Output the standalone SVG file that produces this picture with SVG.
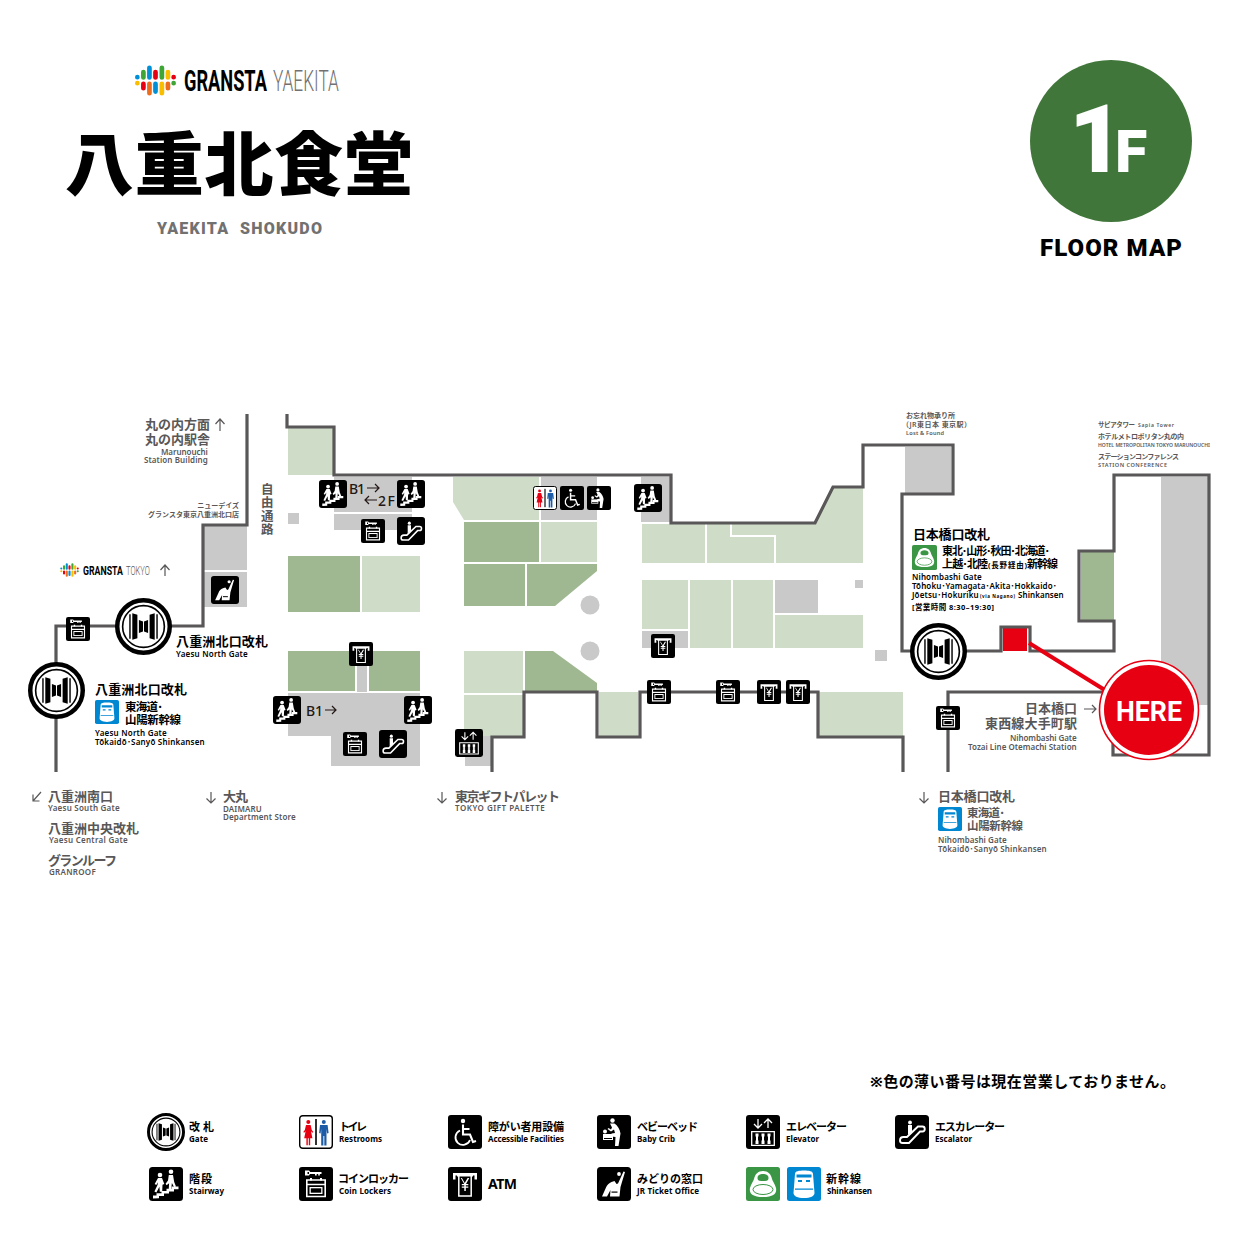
<svg xmlns="http://www.w3.org/2000/svg" width="1241" height="1242" viewBox="0 0 1241 1242">
<style>
text{font-family:"Noto Sans","Noto Sans CJK JP",sans-serif;font-weight:700;fill:#000}
.g{fill:#595757}
.s8{font-size:8px;font-weight:600;letter-spacing:.3px}
.s7{font-size:7px;font-weight:600}
.s6{font-size:5.6px;font-weight:600}
.j13{font-size:13px}
.j11{font-size:11.5px}
.lj{font-size:11px}
.le{font-size:8px;font-weight:700}
.e{text-anchor:end}
.lt{fill:#cfdcc8}.dk{fill:#9fb891}.gy{fill:#c9c9ca}
.wall{fill:none;stroke:#595757;stroke-width:3.2;stroke-linejoin:miter}
.ar{fill:none;stroke:#595757;stroke-width:1.2}
.ak{fill:none;stroke:#231815;stroke-width:1.2}
.w{fill:#fff}.wl{fill:none;stroke:#fff}
.wm{font-family:"Roboto",sans-serif;font-weight:700}
.wl2{font-family:"Roboto",sans-serif;font-weight:300}
.fl{font-size:14px;font-weight:500;fill:#231815}
</style>
<defs>
<symbol id="logo" viewBox="255 44 125 92">
<g fill="none" stroke-width="14" stroke-linecap="round">
<path stroke="#e60012" d="M280 100V113M316 65V81M370 80V80.100"/>
<path stroke="#3fa535" d="M280 65V81M335 52V81M370 98V98.100"/>
<path stroke="#0090d8" d="M298 52V81M316 100V123M262 80V80.100"/>
<path stroke="#ed6d1f" d="M298 100V128M353 100V113"/>
<path stroke="#fabe00" d="M335 100V128M353 65V81M262 98V98.100"/>
</g></symbol>
<symbol id="gate" viewBox="0 0 56 56">
<circle cx="28" cy="28" r="25.800" fill="#fff" stroke="#000" stroke-width="4.400"/>
<circle cx="28" cy="28" r="20.500" fill="#fff" stroke="#000" stroke-width="1.600"/>
<path d="M14 16h1.400v24H14zM17 15l5 1.500v23L17 41zM23.500 21.500l4 1.500v10l-4 1.500zM32.500 21.500l-4 1.500v10l4 1.500zM39 15l-5 1.500v23l5 1.500zM40.600 16H42v24h-1.400z"/>
</symbol>
<symbol id="stairs" viewBox="0 0 34 34">
<rect width="34" height="34" rx="3.500"/>
<circle class="w" cx="11" cy="8" r="2.300"/><circle class="w" cx="22" cy="4.800" r="2.300"/>
<path class="w" d="M9 11h4l2.300 6 -1.800 .7 -.3 7h-2.400l-.4-5 -3 5.800-2-1 3.200-6.800 .2-2.500-1.500 2.700-1.600-.9zM19.800 8h4.200l1.200 7 1.800 4.500-1.900 .8-2.200-4.300-.8 6.800h-2.400l.4-6.500-2.500 2-1-1.500 2.400-3.300z"/>
<path class="w" d="M4 31.500v-3h3.500v-2.300h5v-2.300h5v-2.200h5v-2.200h7v2.700h-4.500v2.200h-5v2.200h-5v2.300h-5v2.400z"/>
</symbol>
<symbol id="locker" viewBox="0 0 34 34">
<rect width="34" height="34" rx="3"/>
<path class="w" d="M6 3.500h4l1.300 1.500h11.200v2h-1.700v1.500h-1.600V7h-1.500v1.500h-1.700V7h-5l-1 1.500H6zM8.500 5v2h1.500V5z"/>
<path class="wl" stroke-width="1.600" d="M7.800 13h18.400v16.500H7.800zM7.800 17.500h18.400"/>
<path class="w" d="M11 11h2v2.500h-2zM21 11h2v2.500h-2zM10.500 20h13v7h-13z"/>
<path d="M11.800 21.300h10.400v4.400H11.800z"/>
</symbol>
<symbol id="atm" viewBox="0 0 34 34">
<rect width="34" height="34" rx="3"/>
<path class="w" d="M5 6h24v6.500h-2.500V8.500H7.500v4H5z"/>
<path class="wl" stroke-width="1.500" d="M10.800 8v21h12.400V8"/>
<path class="w" d="M9 8h16v1.500H9zM12.800 11l3.400 6h-2.400v1.300h2.500v1.200h-2.500v1.300h2.500V24h1.500v-3.200h2.500v-1.300h-2.500v-1.200h2.500V17h-2.300l3.300-6h-1.700l-2.900 5-2.800-5z"/>
</symbol>
<symbol id="esc" viewBox="0 0 34 34">
<rect width="34" height="34" rx="3.500"/>
<circle class="w" cx="15" cy="7.500" r="1.900"/><path class="w" d="M13 10h4v7l-4 3z"/>
<path class="wl" stroke-width="1.900" d="M5 25.500c0-2.500 1.500-3.500 3.500-3.500h3.500L23 11.500h4.500c3 0 3 5 0 5H25L14 28H7.500C6 28 5 27 5 25.500z"/>
</symbol>
<symbol id="seat" viewBox="0 0 34 34">
<rect width="34" height="34" rx="3.500"/>
<circle class="w" cx="22" cy="7" r="1.900"/>
<path class="w" d="M26.500 4.500l1.500 .5-4.500 15-1 9.500h-9.500l.5-6.500-3.500 6.500H5l4-9c1-2.500 3-4.500 5.500-5.500l3-1 2 3 1.500-.5z"/>
<path d="M14.500 24.500h6v1.200h-6z"/>
</symbol>
<symbol id="wc" viewBox="0 0 34 34">
<rect x=".7" y=".7" width="32.600" height="32.600" rx="3" fill="#fff" stroke="#000" stroke-width="1.400"/>
<rect x="16.200" y="4" width="1.600" height="26"/>
<circle cx="9.300" cy="7" r="2" fill="#e60012"/><path fill="#e60012" d="M7 10h4.600l1.200 5 1.500 2-.8.700-1.500-1.500 1.400 7h-2.200v7H9.800v-7h-1v7H7.400v-7H5.200l1.400-7-1.500 1.500L4.300 17l1.500-2z"/>
<circle cx="24.800" cy="7" r="2" fill="#1d5da8"/><path fill="#1d5da8" d="M21 10h7.600l1 8-1.500.5-.6-4.500v16.500h-2.200V21h-.9v9.500h-2.200V14l-.6 4.500-1.500-.5z"/>
</symbol>
<symbol id="wheel" viewBox="0 0 34 34">
<rect width="34" height="34" rx="3"/>
<circle class="w" cx="15" cy="6" r="2.200"/>
<path class="wl" stroke-width="2.100" d="M15 9.500v10h7l3 7.500 3-1"/>
<path class="wl" stroke-width="1.800" d="M15.500 14h6M12 15.500A7.500 7.500 0 1 0 22 25"/>
</symbol>
<symbol id="baby" viewBox="0 0 34 34">
<rect width="34" height="34" rx="3"/>
<circle class="w" cx="15.500" cy="5.500" r="2.200"/>
<path class="w" d="M13 8.500h4.500c3 2 5.500 6 6 10l-.5 3-1.500 9.500h-3.500l.5-9-4-.5v-3l3.500-.5-1-3.500-3 2-3.500-2.500 1-1 2.500 1.500 1-2z"/>
<path class="w" d="M6 19h10v6H6z"/><circle class="w" cx="8" cy="16.500" r="2"/>
<path d="M7 23h8v1H7z"/>
</symbol>
<symbol id="elev" viewBox="0 0 34 34">
<rect width="34" height="34" rx="3"/>
<path class="wl" stroke-width="1.300" d="M12 4v9M8 9l4 4 4-4M22 13V4M18 8l4-4 4 4M5.700 16.700h22.600v13.600H5.700z"/>
<path class="w" d="M9.500 18.500h3V29h-3zM15.500 18.500h3V29h-3zM21.500 18.500h3V29h-3z"/>
<path d="M9 21.500h1v4H9zM12 21.500h1v4h-1zM15 21.500h1v4h-1zM18 21.500h1v4h-1zM21 21.500h1v4h-1zM24 21.500h1v4h-1z"/>
</symbol>
<symbol id="tg" viewBox="0 0 34 34">
<rect width="34" height="34" rx="2.500" fill="#3a9645"/>
<path class="w" d="M17 4c5 0 8 3 9 8 .5 2 3 5 4 9 1 5-2 9-13 9S3 26 4 21c1-4 3.500-7 4-9 1-5 4-8 9-8z"/>
<path fill="#3a9645" d="M11.500 11c0-3 2.500-4 5.500-4s5.500 1 5.500 4-2.500 3-5.500 3-5.500 0-5.500-3z"/>
<ellipse cx="17" cy="22.500" rx="10" ry="5" fill="#fff" stroke="#3a9645" stroke-width="1"/>
</symbol>
<symbol id="tb" viewBox="0 0 34 34">
<rect width="34" height="34" rx="2.500" fill="#0087d2"/>
<path class="w" d="M8 7c0-3 4-3.500 9-3.500s9 .500 9 3.500l1.500 19c0 3-4 5-10.500 5s-10.500-2-10.500-5z"/>
<path fill="#0087d2" d="M9.500 7.500h15v3h-15zM11 13h4v2h-4zM19 13h4v2h-4zM8 21.500h18v1.200H8z"/>
</symbol>
</defs>

<g id="header">
<use href="#logo" x="135" y="65" width="42" height="31"/>
<text class="wm" transform="translate(184 91) scale(.7 1)" font-size="29" textLength="118.500" lengthAdjust="spacingAndGlyphs">GRANSTA</text>
<text class="wl2" style="fill:#727171" transform="translate(273 91) scale(.7 1)" font-size="29" textLength="94" lengthAdjust="spacingAndGlyphs">YAEKITA</text>
<text x="65" y="190" font-size="69" textLength="348" style="font-family:'Noto Sans CJK JP',sans-serif;font-weight:900">八重北食堂</text>
<text x="157" y="234" font-size="16" textLength="165" style="font-family:'Roboto',sans-serif;fill:#727171;font-weight:900">YAEKITA&#160; SHOKUDO</text>
</g>
<g id="floor-badge">
<circle cx="1111" cy="141" r="81" fill="#40763a"/>
<text x="1069" y="172" font-size="94" style="font-family:'Roboto',sans-serif;font-weight:900;fill:#fff">1</text>
<text x="1115" y="172" font-size="59" style="font-family:'Roboto',sans-serif;font-weight:900;fill:#fff">F</text>
<text x="1040" y="256" font-size="24" textLength="142" style="font-family:'Roboto',sans-serif;font-weight:900">FLOOR MAP</text>
</g>

<g id="areas">
<path class="lt" d="M288 428h45v47h-45zM453 477h86v43h-75l-11-18zM464 651h59v42h-59zM464 695h59v41h-59zM599 692h39v44h-39zM642 524h63v39h-63zM707 524h23v13h44v26h-67zM732 524h83l18-36h30v75h-87v-28h-44zM642 580h46v49h-46zM690 580h41v68h-41zM733 580h40v68h-40zM775 615h88v33h-88zM819 692h84v44h-84zM362 556h58v56h-58zM541 522h56v40h-56z"/>
<path class="dk" d="M288 556h72v56h-72zM288 651h67v40h-67zM369 651h51v40h-51zM464 522h75v40h-75zM464 564h61v42h-61zM527 564h70v7l-42 35h-28zM525 651h28l44 32v8h-72zM1081 552h33v68h-33z"/>
<path class="gy" d="M204 526h43v44h-43zM204 572h43v35h-43zM334 477h78v35h-78zM334 514h78v16h-78zM288 513h11v11h-11zM357 665h10v27h-10zM288 693h132v43h-132zM331 736h89v30h-89zM465 736h26v30h-26zM541 477h56v43h-56zM641 477h29v45h-29zM642 631h46v17h-46zM775 580h43v33h-43zM855 580h8v8h-8zM875 650h12v11h-12zM905 447h46v47h-46zM1161 477h47v228h-47z"/>
<circle class="gy" cx="590" cy="605" r="9.500"/><circle class="gy" cx="590" cy="651" r="9.500"/>
<rect x="1003" y="628" width="24" height="23" fill="#e60012"/>
</g>

<g id="connectors">
<path class="wall" d="M247 414V525H203V626H56V772"/>
<path class="wall" d="M287 414V427H334V475H671V523H815L833 487H863V445H953V494H902V651H1001V627H1030V651H1114V621H1079V551H1114V475H1209V755H1113V700"/>
<path class="wall" d="M492 772V737H524V692H597V737H640V692H818V737H903V772"/>
<path class="wall" d="M948 772V692H1110"/>
</g>

<g id="here">
<path d="M1029 643L1108 692" stroke="#e60012" stroke-width="4" fill="none"/>
<circle cx="1149" cy="710" r="49.500" fill="#fff" stroke="#e60012" stroke-width="1.600"/>
<circle cx="1149" cy="710" r="45" fill="#e60012"/>
<text x="1116" y="721" font-size="28" textLength="66" lengthAdjust="spacingAndGlyphs" style="font-family:'Roboto',sans-serif;fill:#fff">HERE</text>
</g>

<g id="node-gate-yaesu-n1"><use href="#gate" x="115" y="598" width="57" height="57"/></g>
<g id="node-gate-yaesu-n2"><use href="#gate" x="28" y="662" width="57" height="57"/></g>
<g id="node-gate-nihombashi"><use href="#gate" x="910" y="623" width="57" height="57"/></g>
<g id="node-stairs-1"><use href="#stairs" x="319" y="480" width="28" height="28"/></g>
<g id="node-stairs-2"><use href="#stairs" x="397" y="480" width="28" height="28"/></g>
<g id="node-stairs-3"><use href="#stairs" x="273" y="696" width="28" height="28"/></g>
<g id="node-stairs-4"><use href="#stairs" x="404" y="696" width="28" height="28"/></g>
<g id="node-stairs-5"><use href="#stairs" x="634" y="484" width="28" height="28"/></g>
<g id="node-locker-1"><use href="#locker" x="361" y="519" width="24" height="24"/></g>
<g id="node-locker-2"><use href="#locker" x="66" y="617" width="24" height="24"/></g>
<g id="node-locker-3"><use href="#locker" x="343" y="732" width="24" height="24"/></g>
<g id="node-locker-4"><use href="#locker" x="647" y="680" width="24" height="24"/></g>
<g id="node-locker-5"><use href="#locker" x="716" y="680" width="24" height="24"/></g>
<g id="node-locker-6"><use href="#locker" x="936" y="706" width="24" height="24"/></g>
<g id="node-esc-1"><use href="#esc" x="397" y="517" width="28" height="28"/></g>
<g id="node-esc-2"><use href="#esc" x="379" y="730" width="28" height="28"/></g>
<g id="node-seat"><use href="#seat" x="211" y="576" width="28" height="28"/></g>
<g id="node-atm-1"><use href="#atm" x="349" y="642" width="24" height="24"/></g>
<g id="node-atm-2"><use href="#atm" x="651" y="634" width="24" height="24"/></g>
<g id="node-atm-3"><use href="#atm" x="757" y="680" width="24" height="24"/></g>
<g id="node-atm-4"><use href="#atm" x="786" y="680" width="24" height="24"/></g>
<g id="node-elev"><use href="#elev" x="455" y="729" width="28" height="28"/></g>
<g id="node-wc"><use href="#wc" x="533" y="486" width="24" height="24"/></g>
<g id="node-wheel"><use href="#wheel" x="560" y="486" width="24" height="24"/></g>
<g id="node-baby"><use href="#baby" x="587" y="486" width="24" height="24"/></g>

<g id="labels-left">
<text class="g j13" x="145" y="429" textLength="65">丸の内方面</text>
<path class="ar" d="M220 431V419M215.500 424L220 419L224.500 424"/>
<text class="g j13" x="145" y="444" textLength="65">丸の内駅舎</text>
<text class="g s8" x="161" y="455" textLength="47">Marunouchi</text>
<text class="g s8" x="144" y="463" textLength="64">Station Building</text>
<text class="g s7 e" x="239" y="508">ニューデイズ</text>
<text class="g s7" x="148" y="517" textLength="91">グランスタ東京八重洲北口店</text>
<text class="g" font-size="12.500"><tspan x="261" y="494">自</tspan><tspan x="261" y="507">由</tspan><tspan x="261" y="521">通</tspan><tspan x="261" y="534">路</tspan></text>
<use href="#logo" x="60" y="563" width="19.500" height="14"/>
<text class="wm" transform="translate(83 575) scale(.7 1)" font-size="13" textLength="57" lengthAdjust="spacingAndGlyphs">GRANSTA</text>
<text class="wl2 g" transform="translate(126 575) scale(.7 1)" font-size="13" textLength="34" lengthAdjust="spacingAndGlyphs">TOKYO</text>
<path class="ar" d="M165 576V565M160.500 570L165 565L169.500 570"/>
<text class="j13" x="176" y="646" textLength="92">八重洲北口改札</text>
<text class="s8" x="176" y="657" textLength="72">Yaesu North Gate</text>
<text class="j13" x="95" y="694" textLength="92">八重洲北口改札</text>
<use href="#tb" x="95" y="700" width="24" height="24"/>
<text class="j11" x="125" y="711" textLength="38">東海道･</text>
<text class="j11" x="125" y="724" textLength="56">山陽新幹線</text>
<text class="s8" x="95" y="736" textLength="72">Yaesu North Gate</text>
<text class="s8" x="95" y="745" textLength="110">Tōkaidō･Sanyō Shinkansen</text>
<text class="fl" x="349" y="494" textLength="16">B1</text>
<path class="ak" d="M367 488H379M375 484L379 488L375 492"/>
<path class="ak" d="M377 500H365M369 496L365 500L369 504"/>
<text class="fl" x="378" y="506" textLength="17">2F</text>
<text class="fl" x="306" y="716" textLength="17">B1</text>
<path class="ak" d="M325 710H336M332 706L336 710L332 714"/>
<path class="ar" d="M41 792L33 801M33 794.500V801H39.500"/>
<text class="g j13" x="48" y="801" textLength="65">八重洲南口</text>
<text class="g s8" x="48" y="811" textLength="72">Yaesu South Gate</text>
<text class="g j13" x="48" y="833" textLength="91">八重洲中央改札</text>
<text class="g s8" x="49" y="843" textLength="79">Yaesu Central Gate</text>
<text class="g j13" x="48" y="865" textLength="69">グランルーフ</text>
<text class="g s8" x="49" y="875" textLength="47">GRANROOF</text>
<path class="ar" d="M211 792V803M206.500 798.500L211 803L215.500 798.500"/>
<text class="g j13" x="223" y="801" textLength="25">大丸</text>
<text class="g s8" x="223" y="811.500" textLength="39">DAIMARU</text>
<text class="g s8" x="223" y="820" textLength="73">Department Store</text>
<path class="ar" d="M442 792V803M437.500 798.500L442 803L446.500 798.500"/>
<text class="g j13" x="455" y="801" textLength="105">東京ギフトパレット</text>
<text class="g s8" x="455" y="811" textLength="90">TOKYO GIFT PALETTE</text>
</g>

<g id="labels-right">
<text class="g s7" x="906" y="418" textLength="49">お忘れ物承り所</text>
<text class="g s7" x="902" y="427" textLength="69">（JR東日本 東京駅）</text>
<text class="g s6" x="906" y="435" textLength="38">Lost &amp; Found</text>
<text class="g s6" x="1098" y="427" textLength="37" style="font-size:6.500px">サピアタワー</text>
<text class="g s6" x="1138" y="427" textLength="36" style="font-size:5px">Sapia Tower</text>
<text class="g s7" x="1098" y="439" textLength="86">ホテルメトロポリタン丸の内</text>
<text class="g s6" x="1098" y="447" textLength="112" lengthAdjust="spacingAndGlyphs">HOTEL METROPOLITAN TOKYO MARUNOUCHI</text>
<text class="g s7" x="1098" y="459" textLength="81">ステーションコンファレンス</text>
<text class="g s6" x="1098" y="466.500" textLength="69">STATION CONFERENCE</text>
<text class="j13" x="913" y="539" textLength="77">日本橋口改札</text>
<use href="#tg" x="912" y="545" width="25" height="25"/>
<text class="j11" x="942" y="555" textLength="108" style="font-size:11px">東北･山形･秋田･北海道･</text>
<text class="j11" x="942" y="568" textLength="46" style="font-size:11px">上越･北陸</text>
<text x="988" y="568" font-size="7.500" textLength="39">(長野経由)</text>
<text class="j11" x="1027" y="568" textLength="31" style="font-size:11px">新幹線</text>
<text class="s8" x="912" y="580" textLength="70">Nihombashi Gate</text>
<text class="s8" x="912" y="589" textLength="145">Tōhoku･Yamagata･Akita･Hokkaido･</text>
<text class="s8" x="912" y="598" textLength="67">Jōetsu･Hokuriku</text>
<text x="980" y="598" font-size="4.500" textLength="35">(via Nagano)</text>
<text class="s8" x="1018" y="598" textLength="46">Shinkansen</text>
<text x="912" y="610" font-size="7.500" textLength="82">[営業時間 8:30–19:30]</text>
<text class="g j13" x="1025" y="713" textLength="52">日本橋口</text>
<path class="ar" d="M1084 709H1096M1092 705L1096 709L1092 713"/>
<text class="g j13" x="985" y="728" textLength="92">東西線大手町駅</text>
<text class="g s8" x="1010" y="741" textLength="67">Nihombashi Gate</text>
<text class="g s8" x="968" y="750" textLength="109">Tozai Line Otemachi Station</text>
<path class="ar" d="M924 792V803M919.500 798.500L924 803L928.500 798.500"/>
<text class="g j13" x="938" y="801" textLength="77">日本橋口改札</text>
<use href="#tb" x="938" y="807" width="24" height="24"/>
<text class="g j11" x="967" y="817" textLength="38">東海道･</text>
<text class="g j11" x="967" y="830" textLength="56">山陽新幹線</text>
<text class="g s8" x="938" y="843" textLength="69">Nihombashi Gate</text>
<text class="g s8" x="938" y="852" textLength="109">Tōkaidō･Sanyō Shinkansen</text>
</g>

<g id="legend">
<text x="870" y="1087" font-size="15" textLength="305">※色の薄い番号は現在営業しておりません。</text>
<g id="legend-gate"><use href="#gate" x="147" y="1113" width="38" height="38"/><text class="lj" x="189" y="1131" textLength="25">改札</text><text class="le" x="189" y="1142" textLength="19">Gate</text></g>
<g id="legend-wc"><use href="#wc" x="299" y="1115" width="34" height="34"/><text class="lj" x="339" y="1131" textLength="28">トイレ</text><text class="le" x="339" y="1142" textLength="43">Restrooms</text></g>
<g id="legend-wheel"><use href="#wheel" x="448" y="1115" width="34" height="34"/><text class="lj" x="488" y="1131" textLength="76">障がい者用設備</text><text class="le" x="488" y="1142" textLength="76">Accessible Facilities</text></g>
<g id="legend-baby"><use href="#baby" x="597" y="1115" width="34" height="34"/><text class="lj" x="637" y="1131" textLength="61">ベビーベッド</text><text class="le" x="637" y="1142" textLength="38">Baby Crib</text></g>
<g id="legend-elev"><use href="#elev" x="746" y="1115" width="34" height="34"/><text class="lj" x="786" y="1131" textLength="61">エレベーター</text><text class="le" x="786" y="1142" textLength="33">Elevator</text></g>
<g id="legend-esc"><use href="#esc" x="895" y="1115" width="34" height="34"/><text class="lj" x="935" y="1131" textLength="70">エスカレーター</text><text class="le" x="935" y="1142" textLength="37">Escalator</text></g>
<g id="legend-stairs"><use href="#stairs" x="149" y="1167" width="34" height="34"/><text class="lj" x="189" y="1183" textLength="23">階段</text><text class="le" x="189" y="1194" textLength="35">Stairway</text></g>
<g id="legend-locker"><use href="#locker" x="299" y="1167" width="34" height="34"/><text class="lj" x="338" y="1183" textLength="71">コインロッカー</text><text class="le" x="339" y="1194" textLength="52">Coin Lockers</text></g>
<g id="legend-atm"><use href="#atm" x="448" y="1167" width="34" height="34"/><text x="488" y="1189" font-size="14" textLength="29">ATM</text></g>
<g id="legend-seat"><use href="#seat" x="597" y="1167" width="34" height="34"/><text class="lj" x="637" y="1183" textLength="66">みどりの窓口</text><text class="le" x="637" y="1194" textLength="62">JR Ticket Office</text></g>
<g id="legend-shinkansen"><use href="#tg" x="746" y="1167" width="34" height="34"/><use href="#tb" x="787" y="1167" width="34" height="34"/><text class="lj" x="826" y="1183" textLength="35">新幹線</text><text class="le" x="827" y="1194" textLength="45">Shinkansen</text></g>
</g>
</svg>
